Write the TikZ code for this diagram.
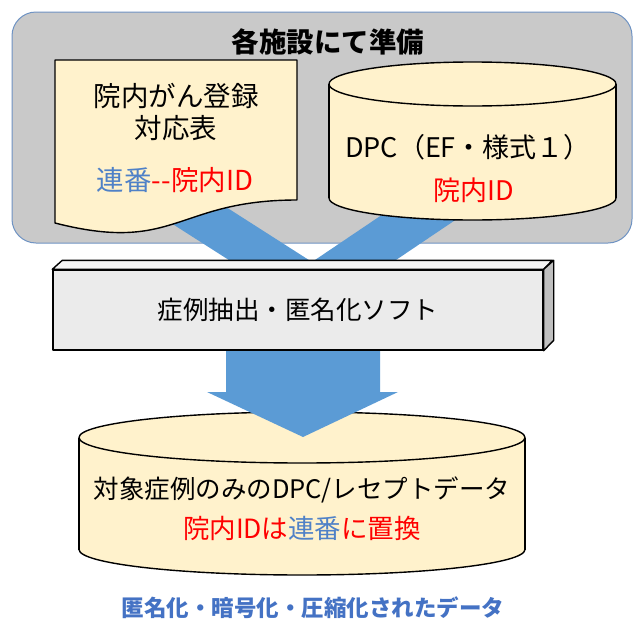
\documentclass[tikz,border=0pt]{standalone}
\usepackage{fontspec}
\setmainfont{Noto Sans CJK JP}
\definecolor{grayfill}{HTML}{C9C9C9}
\definecolor{grayedge}{HTML}{6F93C3}
\definecolor{docfill}{HTML}{FFF2CC}
\definecolor{arrowblue}{HTML}{5B9BD5}
\definecolor{txtblue}{HTML}{4F81C7}
\definecolor{lblblue}{HTML}{4472C4}
\definecolor{txtred}{HTML}{FF0000}
\definecolor{boxfront}{HTML}{EBEBEB}
\definecolor{boxtop}{HTML}{F3F3F3}
\definecolor{boxside}{HTML}{BFBFBF}
\begin{document}
\begin{tikzpicture}[x=1pt,y=-1pt,
  outline/.style={draw=black,line width=1.4pt,line join=round},
  lbl/.style={font=\fontsize{27}{30}\selectfont, inner sep=0pt, anchor=center},
  bandarrow/.style={fill=arrowblue}]
\useasboundingbox[fill=white] (0,0) rectangle (637,640);
% preparation area
\draw[fill=grayfill, draw=grayedge, line width=1pt, rounded corners=24pt] (12,12) rectangle (632,243);
\node[lbl, font=\fontsize{27.5}{30}\selectfont\bfseries] (title) at (328,42) {各施設にて準備};
% block arrows from the two sources
\fill[bandarrow] (135,200) -- (215,200) -- (312,262) -- (232,262) -- cycle;
\fill[bandarrow] (404,200) -- (485,200) -- (393,262) -- (312,262) -- cycle;
% document shape
\draw[outline, fill=docfill] (55,60) -- (297,60) -- (297,200) .. controls (176,200) and (176,254) .. (55,223) -- cycle;
\node[lbl, font=\fontsize{27.5}{30}\selectfont] (doca) at (176,96) {院内がん登録};
\node[lbl, font=\fontsize{27.5}{30}\selectfont] (docb) at (176,128) {対応表};
\node[lbl, font=\fontsize{27.5}{30}\selectfont] (docc) at (175,180) {\textcolor{txtblue}{連番}\textcolor{txtred}{-{}-院内ID}};
% DPC cylinder
\draw[outline, fill=docfill] (472.5,198) ellipse [x radius=143.5pt, y radius=22pt];
\fill[docfill] (329,84) rectangle (616,198);
\draw[outline] (329,84) -- (329,198) (616,84) -- (616,198);
\draw[outline, fill=docfill] (472.5,84) ellipse [x radius=143.5pt, y radius=22pt];
\node[lbl] (dpca) at (468,147) {DPC（EF・様式１）};
\node[lbl, text=txtred] (dpcb) at (474,190) {院内ID};
% result cylinder
\draw[outline, fill=docfill] (302,549.5) ellipse [x radius=223pt, y radius=25.5pt];
\fill[docfill] (79,437.5) rectangle (525,549.5);
\draw[outline] (79,437.5) -- (79,549.5) (525,437.5) -- (525,549.5);
\draw[outline, fill=docfill] (302,437.5) ellipse [x radius=223pt, y radius=25.5pt];
\node[lbl, font=\fontsize{25.5}{30}\selectfont] (resa) at (302,490) {対象症例のみのDPC/レセプトデータ};
\node[lbl, font=\fontsize{26.5}{30}\selectfont] (resb) at (302,528) {\textcolor{txtred}{院内IDは}\textcolor{txtblue}{連番}\textcolor{txtred}{に置換}};
% down arrow
\fill[bandarrow] (226,348) -- (380,348) -- (380,392) -- (398,392) -- (303,437) -- (207,392) -- (226,392) -- cycle;
% software box
\node[outline, fill=boxfront, minimum width=490pt, minimum height=80pt, inner sep=0pt,
  font=\fontsize{25.5}{30}\selectfont] (soft) at (298,310) {症例抽出・匿名化ソフト};
\draw[outline, fill=boxtop] (soft.north west) -- ++(10,-9) -- ++(490,0) -- (soft.north east) -- cycle;
\draw[outline, fill=boxside] (soft.north east) -- ++(10,-9) -- ++(0,80) -- (soft.south east) -- cycle;
% caption
\node[lbl, font=\fontsize{22.5}{26}\selectfont\bfseries, text=lblblue] (cap) at (313,608) {匿名化・暗号化・圧縮化されたデータ};
\end{tikzpicture}
\end{document}
